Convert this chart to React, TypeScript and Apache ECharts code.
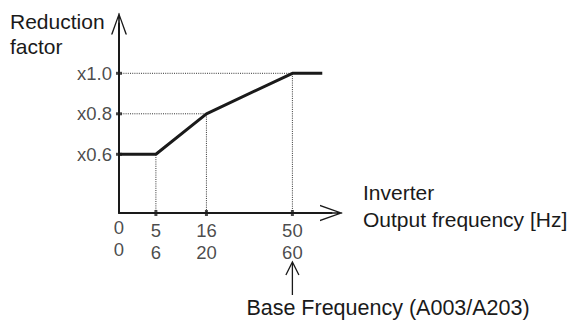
import React, { useEffect, useRef } from "react";
import * as echarts from "echarts";

// Frequency labels (two base-frequency settings)
const freqRow1 = [0, 5, 16, 50];
const freqRow2 = [0, 6, 20, 60];
// Schematic (not-to-scale) axis position of each frequency break point
const freqSlot = [0, 1, 2.37, 4.7];
// Reduction factor at each break point
const factorAtBreak = [0.6, 0.6, 0.8, 1.0];
// Curve continues flat beyond the base frequency
const curveEndSlot = 5.51;
// Y tick levels
const factorLevels = [0.6, 0.8, 1.0];

const Y_MIN = 0.31;
const Y_MAX = 1.246;
const X_MIN = 0;
const X_MAX = 5.76;

const FONT = "Liberation Sans";
const INK = "#1a1a1a";

const arrowPath =
  "path://M8,0 L16,22 L14.5,22 L8,3.6 L1.5,22 L0,22 Z M7.2,1 L8.8,1 L8.8,22 L7.2,22 Z";

export default function App() {
  const ref = useRef<HTMLDivElement>(null);

  useEffect(() => {
    if (!ref.current) return;
    const chart = echarts.init(ref.current, null, { renderer: "svg" });

    const curve = freqSlot
      .map((s, i) => [s, factorAtBreak[i]])
      .concat([[curveEndSlot, factorAtBreak[factorAtBreak.length - 1]]]);

    const guideSeries = freqSlot.slice(1).map((s, k) => {
      const f = factorAtBreak[k + 1];
      return {
        type: "line",
        data: [
          [0, f],
          [s, f],
          [s, Y_MIN],
        ],
        symbol: "none",
        silent: true,
        z: 1,
        lineStyle: { color: "#333", width: 1, type: [1, 1.2] },
      };
    });

    chart.setOption({
      animation: false,
      grid: { left: 119, top: 23.5, width: 212.5, height: 189.5, containLabel: false },
      xAxis: {
        type: "value",
        min: X_MIN,
        max: X_MAX,
        axisLine: {
          show: true,
          onZero: false,
          symbol: ["none", arrowPath],
          symbolSize: [17, 23],
          lineStyle: { color: INK, width: 2 },
        },
        axisTick: { show: false },
        axisLabel: { show: false },
        splitLine: { show: false },
      },
      yAxis: {
        type: "value",
        min: Y_MIN,
        max: Y_MAX,
        axisLine: {
          show: true,
          onZero: false,
          symbol: ["none", arrowPath],
          symbolSize: [16, 23],
          lineStyle: { color: INK, width: 2 },
        },
        axisTick: { show: false },
        axisLabel: { show: false },
        splitLine: { show: false },
      },
      series: [
        ...guideSeries,
        {
          type: "line",
          data: curve,
          symbol: "none",
          z: 3,
          lineStyle: { color: INK, width: 3 },
        },
        {
          type: "scatter",
          z: 4,
          clip: false,
          symbol: "rect",
          symbolSize: [6, 3],
          itemStyle: { color: INK },
          data: factorLevels.map((f) => [0, f]),
          label: {
            show: true,
            position: "left",
            distance: 4,
            color: INK,
            fontFamily: FONT,
            fontSize: 18.5,
            formatter: (p: any) => "x" + p.value[1].toFixed(1),
          },
        },
        {
          type: "scatter",
          z: 4,
          clip: false,
          symbol: "rect",
          itemStyle: { color: INK },
          data: freqSlot.map((s, i) => ({
            value: [s, Y_MIN],
            symbolSize: i === 0 ? [0, 0] : [3, 6],
          })),
          label: {
            show: true,
            position: "bottom",
            distance: 3,
            color: INK,
            fontFamily: FONT,
            fontSize: 18.5,
            lineHeight: 22,
            align: "center",
            formatter: (p: any) => freqRow1[p.dataIndex] + "\n" + freqRow2[p.dataIndex],
          },
        },
      ],
    });

    const baseIdx = freqSlot.length - 1;
    const px = chart.convertToPixel({ gridIndex: 0 }, [freqSlot[baseIdx], Y_MIN]) as number[];
    const bx = px[0];

    chart.setOption({
      graphic: [
        {
          type: "text",
          left: 10,
          top: 8.5,
          style: {
            text: "Reduction\nfactor",
            fontFamily: FONT,
            fontSize: 21,
            lineHeight: 25,
            fill: INK,
          },
        },
        {
          type: "text",
          left: 363,
          top: 178.5,
          style: {
            text: "Inverter\nOutput frequency [Hz]",
            fontFamily: FONT,
            fontSize: 21,
            lineHeight: 27,
            fill: INK,
          },
        },
        {
          type: "text",
          left: bx - 46,
          top: 297,
          style: {
            text: "Base Frequency (A003/A203)",
            fontFamily: FONT,
            fontSize: 21.5,
            lineHeight: 22,
            fill: INK,
          },
        },
        {
          type: "line",
          shape: { x1: bx, y1: 295, x2: bx, y2: 263 },
          style: { stroke: INK, lineWidth: 1.3 },
        },
        {
          type: "polyline",
          shape: {
            points: [
              [bx - 6.5, 275],
              [bx, 262],
              [bx + 6.5, 275],
            ],
          },
          style: { stroke: INK, lineWidth: 1.3, fill: "none" },
        },
      ],
    });

    return () => chart.dispose();
  }, []);

  return (
    <div
      ref={ref}
      style={{ position: "fixed", left: 0, top: 0, width: 573, height: 320, background: "#fff" }}
    />
  );
}
